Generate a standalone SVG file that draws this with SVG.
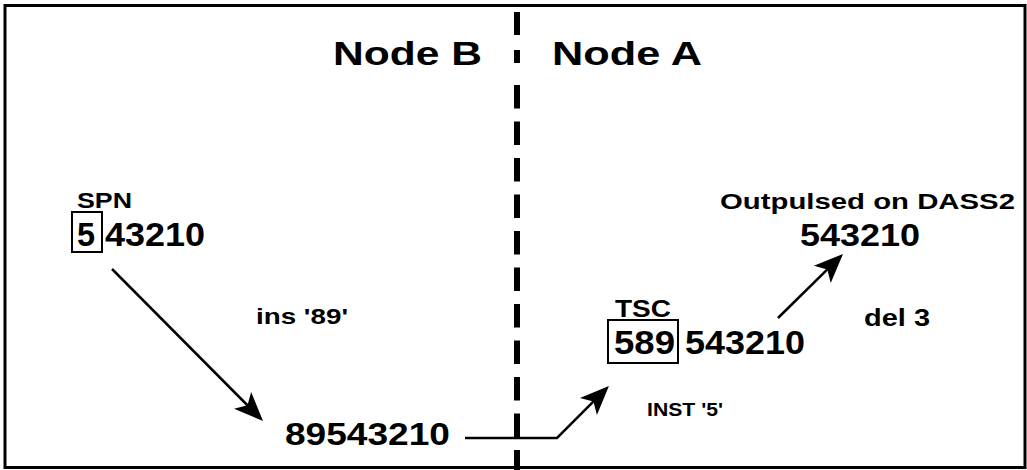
<svg xmlns="http://www.w3.org/2000/svg" width="1027" height="470" viewBox="0 0 1027 470">
<style>
text{font-family:"Liberation Sans",Arial,sans-serif;font-weight:bold;fill:#000}
.box{fill:none;stroke:#000;stroke-width:2}
.conn{fill:none;stroke:#000;stroke-width:2.5}
.div{stroke:#000;stroke-width:6}
</style>
<defs>
<marker id="ah" viewBox="-24 -13 34 26" refX="0" refY="0" markerWidth="34" markerHeight="26" orient="auto" markerUnits="userSpaceOnUse">
<path d="M8,0 L-21,-12 L-14,0 L-21,12 Z" fill="#000"/>
</marker>
</defs>
<rect x="0" y="0" width="1027" height="470" fill="#fff"/>
<rect x="5" y="5.5" width="1020" height="462" fill="none" stroke="#000" stroke-width="3"/>
<g id="divider">
<line class="div" x1="517" y1="12" x2="517" y2="35"/>
<line class="div" x1="517" y1="50" x2="517" y2="63"/>
<line class="div" x1="517" y1="85" x2="517" y2="470" stroke-dasharray="23.5 13"/>
</g>
<g id="nodeB-title"><text x="333" y="65" font-size="34" textLength="149" lengthAdjust="spacingAndGlyphs">Node B</text></g>
<g id="nodeA-title"><text x="552" y="65" font-size="34" textLength="150" lengthAdjust="spacingAndGlyphs">Node A</text></g>
<g id="spn">
<text x="77" y="208" font-size="22" textLength="55" lengthAdjust="spacingAndGlyphs">SPN</text>
<rect class="box" x="72" y="212" width="30" height="40"/>
<text x="77" y="246" font-size="33" textLength="18" lengthAdjust="spacingAndGlyphs">5</text>
<text x="105" y="246" font-size="33" textLength="100" lengthAdjust="spacingAndGlyphs">43210</text>
</g>
<g id="ins89"><text x="256" y="324" font-size="22" textLength="92" lengthAdjust="spacingAndGlyphs">ins '89'</text></g>
<g id="num89"><text x="285" y="445" font-size="31" textLength="165" lengthAdjust="spacingAndGlyphs">89543210</text></g>
<g id="inst5"><text x="647" y="416" font-size="19" textLength="76" lengthAdjust="spacingAndGlyphs">INST '5'</text></g>
<g id="tsc">
<text x="615" y="317" font-size="24" textLength="56" lengthAdjust="spacingAndGlyphs">TSC</text>
<rect class="box" x="608" y="320" width="70" height="43"/>
<text x="614" y="354" font-size="34" textLength="61" lengthAdjust="spacingAndGlyphs">589</text>
<text x="685" y="354" font-size="34" textLength="120" lengthAdjust="spacingAndGlyphs">543210</text>
</g>
<g id="outpulsed">
<text x="720" y="209" font-size="22" textLength="295" lengthAdjust="spacingAndGlyphs">Outpulsed on DASS2</text>
<text x="800" y="246" font-size="32" textLength="120" lengthAdjust="spacingAndGlyphs">543210</text>
</g>
<g id="del3"><text x="864" y="326" font-size="24" textLength="66" lengthAdjust="spacingAndGlyphs">del 3</text></g>
<g id="connectors">
<path class="conn" d="M112,269 L257.4,415.3" marker-end="url(#ah)"/>
<path class="conn" d="M465,438 L557,438 L603.3,391.7" marker-end="url(#ah)"/>
<path class="conn" d="M778,318 L837.3,259.6" marker-end="url(#ah)"/>
</g>
</svg>
